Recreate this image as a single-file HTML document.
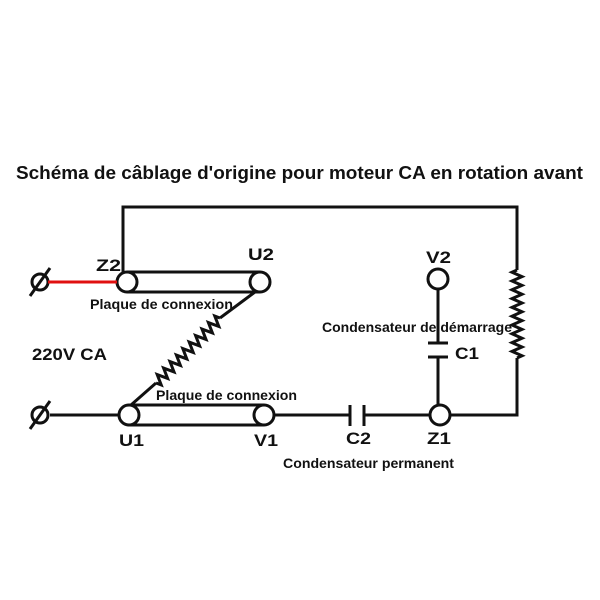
<!DOCTYPE html>
<html><head><meta charset="utf-8"><style>
html,body{margin:0;padding:0;background:#fff}
svg{display:block}
text{font-family:"Liberation Sans",Arial,sans-serif;font-weight:bold;fill:#111}
</style></head><body>
<svg id="s" width="600" height="600" viewBox="0 0 600 600" xmlns="http://www.w3.org/2000/svg">
<text x="16" y="179" font-size="18" textLength="567" lengthAdjust="spacingAndGlyphs">Schéma de câblage d'origine pour moteur CA en rotation avant</text>
<g stroke="#111" stroke-width="3" fill="none">
<polyline points="123,272 123,207 517,207 517,270"/>
<polyline points="517,358 517,415 450,415"/>
<line x1="50" y1="415" x2="119" y2="415"/>
<line x1="274" y1="415" x2="350" y2="415"/>
<line x1="364" y1="415" x2="430" y2="415"/>
<line x1="350" y1="405" x2="350" y2="426"/>
<line x1="364" y1="405" x2="364" y2="426"/>
<line x1="438" y1="289" x2="438" y2="343"/>
<line x1="428" y1="343" x2="448" y2="343"/>
<line x1="428" y1="357" x2="448" y2="357"/>
<line x1="438" y1="357" x2="438" y2="405"/>
<line x1="127" y1="272" x2="260" y2="272"/>
<line x1="127" y1="292" x2="260" y2="292"/>
<line x1="129" y1="405" x2="264" y2="405"/>
<line x1="129" y1="425" x2="264" y2="425"/>
<polyline points="255,292 220,318"/>
<polyline points="156,383 131,405"/>
<path id="c1" d=""/>
<path id="c2" d=""/>
<circle cx="127" cy="282" r="10" fill="#fff"/>
<circle cx="260" cy="282" r="10" fill="#fff"/>
<circle cx="129" cy="415" r="10" fill="#fff"/>
<circle cx="264" cy="415" r="10" fill="#fff"/>
<circle cx="438" cy="279" r="10" fill="#fff"/>
<circle cx="440" cy="415" r="10" fill="#fff"/>
<circle cx="40" cy="282" r="8"/>
<line x1="30" y1="296" x2="50" y2="268"/>
<circle cx="40" cy="415" r="8"/>
<line x1="30" y1="429" x2="50" y2="401"/>
</g>
<line x1="48" y1="282" x2="117" y2="282" stroke="#e01010" stroke-width="3"/>
<g font-size="17">
<text x="96" y="271" textLength="25" lengthAdjust="spacingAndGlyphs">Z2</text>
<text x="248" y="260" textLength="26" lengthAdjust="spacingAndGlyphs">U2</text>
<text x="426" y="263" textLength="25" lengthAdjust="spacingAndGlyphs">V2</text>
<text x="119" y="446" textLength="25" lengthAdjust="spacingAndGlyphs">U1</text>
<text x="254" y="446" textLength="24" lengthAdjust="spacingAndGlyphs">V1</text>
<text x="346" y="444" textLength="25" lengthAdjust="spacingAndGlyphs">C2</text>
<text x="427" y="444" textLength="24" lengthAdjust="spacingAndGlyphs">Z1</text>
<text x="455" y="359" textLength="24" lengthAdjust="spacingAndGlyphs">C1</text>
<text x="32" y="360" textLength="75" lengthAdjust="spacingAndGlyphs">220V CA</text>
</g>
<g font-size="14">
<text x="90" y="309" textLength="143" lengthAdjust="spacingAndGlyphs">Plaque de connexion</text>
<text x="156" y="400" textLength="141" lengthAdjust="spacingAndGlyphs">Plaque de connexion</text>
<text x="322" y="332" textLength="190" lengthAdjust="spacingAndGlyphs">Condensateur de démarrage</text>
<text x="283" y="468" textLength="171" lengthAdjust="spacingAndGlyphs">Condensateur permanent</text>
</g>
<script>
function zig(x1,y1,x2,y2,n,a){var dx=x2-x1,dy=y2-y1,L=Math.hypot(dx,dy),px=-dy/L,py=dx/L,d="M"+x1+","+y1;
for(var i=1;i<=2*n;i++){var t=(i-0.5)/(2*n),s=(i%2?1:-1)*a;d+=" L"+(x1+dx*t+px*s).toFixed(1)+","+(y1+dy*t+py*s).toFixed(1);}
return d+" L"+x2+","+y2;}
document.getElementById("c1").setAttribute("d",zig(220,318,156,383,10,5));
document.getElementById("c2").setAttribute("d",zig(517,270,517,358,10,5));
</script>
</svg>
</body></html>
